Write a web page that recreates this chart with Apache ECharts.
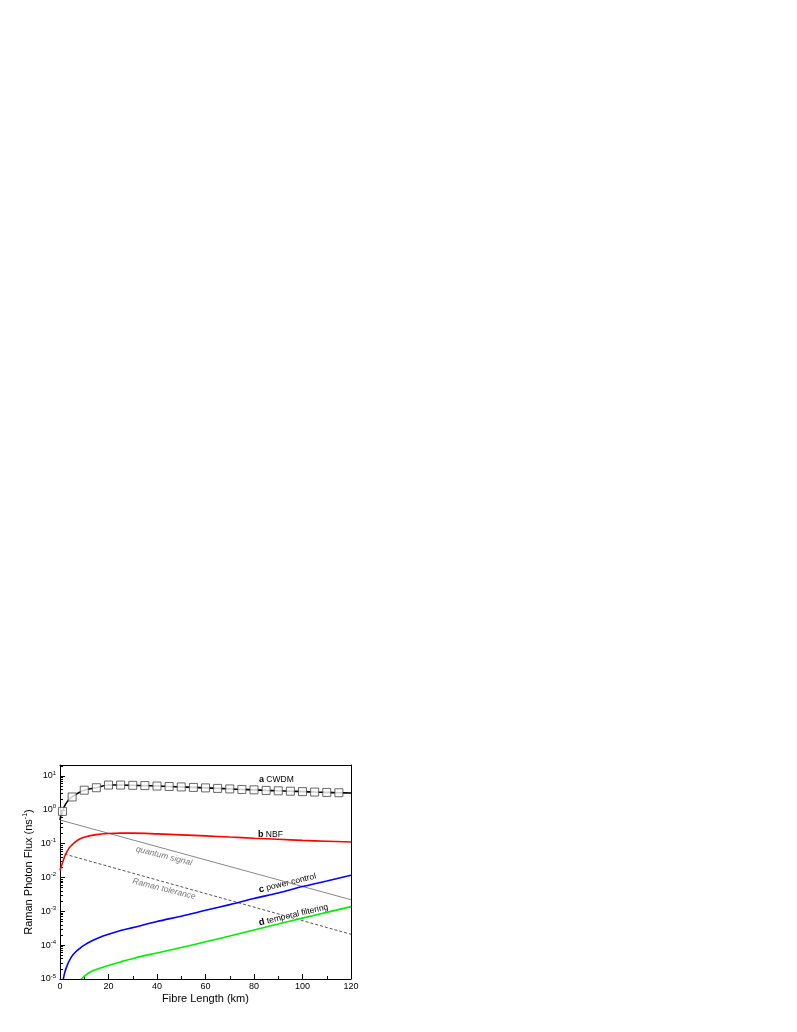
<!DOCTYPE html>
<html>
<head>
<meta charset="utf-8">
<script src="https://cdn.jsdelivr.net/npm/echarts@6/dist/echarts.min.js"></script>
<style>
  html, body { margin: 0; padding: 0; background: #fff; }
  #chart { width: 797px; height: 1032px; }
</style>
</head>
<body>
<div id="chart"></div>
<script>
var chart = echarts.init(document.getElementById("chart"));

// fibre length (km) / photon flux (ns^-1)
var cwdmKm = [0, 0.5, 1, 2, 3, 4, 5, 7, 10, 15, 20, 25, 30, 35, 40, 45, 50, 55, 60, 65, 70, 75, 80, 85, 90, 95, 100, 105, 110, 115, 120];
var cwdmFlux = [0.5, 0.75, 0.9, 1.35, 1.75, 2.1, 2.4, 3.0, 3.8, 4.5, 5.4, 5.4, 5.3, 5.2, 5.05, 4.9, 4.75, 4.6, 4.45, 4.3, 4.15, 4.0, 3.9, 3.75, 3.65, 3.55, 3.45, 3.35, 3.27, 3.2, 3.13];
var markerKm = [1, 5, 10, 15, 20, 25, 30, 35, 40, 45, 50, 55, 60, 65, 70, 75, 80, 85, 90, 95, 100, 105, 110, 115];

var nbfKm = [0, 0.5, 1, 2, 3, 4, 6, 8, 10, 15, 20, 25, 30, 40, 50, 60, 70, 80, 90, 100, 110, 120];
var nbfFlux = [0.016, 0.021, 0.027, 0.043, 0.06, 0.078, 0.108, 0.135, 0.155, 0.185, 0.2, 0.205, 0.205, 0.195, 0.182, 0.17, 0.157, 0.145, 0.135, 0.125, 0.118, 0.112];

var powerKm = [1.37, 2, 2.75, 3.5, 4.8, 6.5, 8.2, 10, 13, 16, 20, 25, 30, 40, 50, 60, 70, 80, 90, 100, 110, 120];
var powerFlux = [1e-5, 1.6e-5, 2.3e-5, 3.1e-5, 4.6e-5, 6.4e-5, 8.1e-5, 1e-4, 1.32e-4, 1.66e-4, 2.1e-4, 2.7e-4, 3.3e-4, 5e-4, 7.2e-4, 1.07e-3, 1.58e-3, 2.4e-3, 3.5e-3, 5.4e-3, 7.9e-3, 0.0117];

var tempKm = [8.7, 10, 11.7, 14, 18.6, 25, 30.9, 40, 50, 60, 70, 80, 90, 100, 110, 120];
var tempFlux = [1e-5, 1.2e-5, 1.48e-5, 1.8e-5, 2.35e-5, 3.2e-5, 4.2e-5, 5.9e-5, 8.5e-5, 1.26e-4, 1.86e-4, 2.8e-4, 4.2e-4, 6.3e-4, 9.3e-4, 1.38e-3];

var signalKm = [0, 120];
var signalFlux = [0.5, 0.0022];
var toleranceKm = [2, 120];
var toleranceFlux = [0.049, 0.00021];

var xTicks = [0, 20, 40, 60, 80, 100, 120];
var yDecades = [-5, -4, -3, -2, -1, 0, 1];

var FONT = '"Liberation Sans", Arial, sans-serif';
var yMin = -5, yMax = 1.325;

function pairs(xs, vs) {
    var out = [];
    for (var i = 0; i < xs.length; i++) out.push([xs[i], Math.log10(vs[i])]);
    return out;
}
var markerData = [];
for (var m = 0; m < markerKm.length; m++) {
    var idx = cwdmKm.indexOf(markerKm[m]);
    markerData.push([markerKm[m], Math.log10(cwdmFlux[idx])]);
}
// log minor ticks 2..9 in every decade
var yMinor = [];
for (var d = -5; d <= 1; d++) {
    for (var k = 2; k <= 9; k++) {
        var t = d + Math.log10(k);
        if (t < yMax) yMinor.push(t);
    }
}

function curve(name, xs, vs, color) {
    return {
        type: 'line',
        name: name,
        data: pairs(xs, vs),
        showSymbol: false,
        smooth: 0.35,
        lineStyle: { color: color, width: 1.6 },
        z: 3
    };
}

var option = {
    animation: false,
    backgroundColor: '#fff',
    grid: { left: 60, right: 446, top: 765, bottom: 53 },
    xAxis: [{
        type: 'value',
        min: 0,
        max: 120,
        interval: 20,
        name: 'Fibre Length (km)',
        nameLocation: 'middle',
        nameGap: 14,
        nameTextStyle: { fontFamily: FONT, fontSize: 11, color: '#000' },
        axisLine: { onZero: false, lineStyle: { color: '#000', width: 1 } },
        axisTick: { inside: true, length: 5, lineStyle: { color: '#000' } },
        minorTick: { show: true, splitNumber: 2, length: 3, lineStyle: { color: '#000' } },
        axisLabel: { fontFamily: FONT, fontSize: 9, color: '#000', margin: 3,
            customValues: xTicks },
        splitLine: { show: false }
    }, {
        type: 'value',
        min: 0,
        max: 120,
        position: 'top',
        axisLine: { onZero: false, lineStyle: { color: '#000', width: 1 } },
        axisTick: { show: false },
        axisLabel: { show: false },
        splitLine: { show: false }
    }],
    yAxis: [{
        type: 'value',
        min: yMin,
        max: yMax,
        name: 'Raman Photon Flux (ns{s|-1})',
        nameLocation: 'middle',
        nameRotate: 90,
        nameGap: 25,
        nameTextStyle: { fontFamily: FONT, fontSize: 11, color: '#000',
            rich: { s: { fontFamily: FONT, fontSize: 7, color: '#000', padding: [0, 0, 6, 0] } } },
        axisLine: { onZero: false, lineStyle: { color: '#000', width: 1 } },
        axisTick: { inside: true, length: 5, customValues: yDecades, lineStyle: { color: '#000' } },
        axisLabel: {
            customValues: yDecades,
            margin: 4,
            formatter: function (v) { return '{b|10}{s|' + v + '}'; },
            rich: {
                b: { fontFamily: FONT, fontSize: 9, color: '#000' },
                s: { fontFamily: FONT, fontSize: 6, color: '#000', padding: [0, 0, 6, 0] }
            }
        },
        splitLine: { show: false }
    }, {
        type: 'value',
        min: yMin,
        max: yMax,
        position: 'left',
        axisLine: { show: false, onZero: false },
        axisTick: { inside: true, length: 3, customValues: yMinor, lineStyle: { color: '#000' } },
        axisLabel: { show: false },
        splitLine: { show: false }
    }, {
        type: 'value',
        min: yMin,
        max: yMax,
        position: 'right',
        axisLine: { show: true, onZero: false, lineStyle: { color: '#000', width: 1 } },
        axisTick: { show: false },
        axisLabel: { show: false },
        splitLine: { show: false }
    }],
    series: [{
        type: 'line',
        name: 'quantum signal',
        data: pairs(signalKm, signalFlux),
        showSymbol: false,
        lineStyle: { color: '#888', width: 1 },
        z: 2
    }, {
        type: 'line',
        name: 'Raman tolerance',
        data: pairs(toleranceKm, toleranceFlux),
        showSymbol: false,
        lineStyle: { color: '#555', width: 1, type: [3, 2] },
        z: 2
    },
    curve('CWDM', cwdmKm, cwdmFlux, '#000'),
    {
        type: 'scatter',
        name: 'CWDM markers',
        data: markerData,
        symbol: 'rect',
        symbolSize: 8,
        itemStyle: { color: '#fff', borderColor: '#444', borderWidth: 1 },
        z: 4
    },
    curve('NBF', nbfKm, nbfFlux, '#ff0000'),
    curve('power control', powerKm, powerFlux, '#0000ff'),
    curve('temporal filtering', tempKm, tempFlux, '#00ee00')
    ],
    graphic: [{
        type: 'text', x: 259, y: 780,
        style: { text: '{b|a} CWDM', fontFamily: FONT, fontSize: 8.5, fill: '#000', verticalAlign: 'middle',
            rich: { b: { fontWeight: 'bold', fontSize: 9, fontFamily: FONT } } }
    }, {
        type: 'text', x: 258, y: 835,
        style: { text: '{b|b} NBF', fontFamily: FONT, fontSize: 8.5, fill: '#000', verticalAlign: 'middle',
            rich: { b: { fontWeight: 'bold', fontSize: 9, fontFamily: FONT } } }
    }, {
        type: 'text', x: 259, y: 890, rotation: 0.24,
        style: { text: '{b|c} power control', fontFamily: FONT, fontSize: 8.5, fill: '#000', verticalAlign: 'middle',
            rich: { b: { fontWeight: 'bold', fontSize: 9.5, fontFamily: FONT } } }
    }, {
        type: 'text', x: 259, y: 923, rotation: 0.23,
        style: { text: '{b|d} temporal filtering', fontFamily: FONT, fontSize: 8.5, fill: '#000', verticalAlign: 'middle',
            rich: { b: { fontWeight: 'bold', fontSize: 9.5, fontFamily: FONT } } }
    }, {
        type: 'text', x: 164, y: 856, rotation: -0.25,
        style: { text: 'quantum signal', fontFamily: FONT, fontSize: 8.5, fontStyle: 'italic', fill: '#777',
            align: 'center', verticalAlign: 'middle' }
    }, {
        type: 'text', x: 164, y: 889, rotation: -0.25,
        style: { text: 'Raman tolerance', fontFamily: FONT, fontSize: 8.5, fontStyle: 'italic', fill: '#777',
            align: 'center', verticalAlign: 'middle' }
    }]
};

chart.setOption(option);
window.addEventListener('resize', function () {
    chart.resize();
});
</script>
</body>
</html>
